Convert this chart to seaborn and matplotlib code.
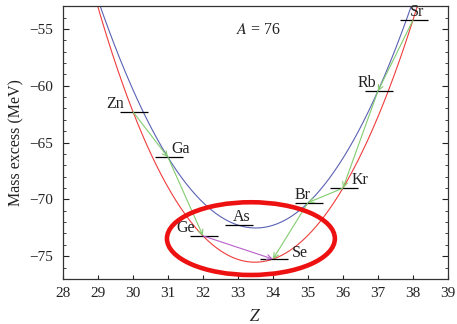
import numpy as np
import pandas as pd
import matplotlib
matplotlib.use("Agg")
import matplotlib.pyplot as plt
import seaborn as sns
from matplotlib.patches import Ellipse

# ---------------- data ----------------
elements = ["Zn", "Ga", "Ge", "As", "Se", "Br", "Kr", "Rb", "Sr"]
Z = [30, 31, 32, 33, 34, 35, 36, 37, 38]
mass_excess = [-62.30, -66.30, -73.21, -72.29, -75.25, -70.29, -69.01, -60.48, -54.25]

beta_from = ["Zn", "Ga", "Sr", "Rb", "Kr", "Br"]
beta_to = ["Ga", "Ge", "Rb", "Kr", "Br", "Se"]
dbeta_from = ["Ge"]
dbeta_to = ["Se"]

x_ticks = list(range(28, 40))
y_ticks = [-75, -70, -65, -60, -55]
mass_number_label = "76"

# ---------------- style ----------------
sns.set_theme(style="ticks")
plt.rcParams["font.family"] = ["Liberation Serif", "DejaVu Serif"]
plt.rcParams["mathtext.fontset"] = "stix"

fig = plt.figure(figsize=(4.57, 3.24), dpi=100)
ax = fig.add_axes([0.138, 0.139, 0.842, 0.842])

df = pd.DataFrame({"element": elements, "Z": Z, "M": mass_excess})
df["parity"] = np.where(df["Z"] % 2 == 0, "even-even", "odd-odd")

# smooth curves through each parity group
fit_degree = {"even-even": 4, "odd-odd": 2}
zz = np.linspace(28, 39, 400)
curves = []
for par, g in df.groupby("parity"):
    coef = np.polyfit(g["Z"], g["M"], fit_degree[par])
    curves.append(pd.DataFrame({"Z": zz, "M": np.polyval(coef, zz), "parity": par}))
curves = pd.concat(curves, ignore_index=True)

sns.lineplot(data=curves, x="Z", y="M", hue="parity",
             palette={"even-even": "#f03c3c", "odd-odd": "#5a62b4"},
             linewidth=0.8, legend=False, ax=ax, sort=False, estimator=None)

# level segments
seg_left, seg_right = 0.38, 0.44
for _, r in df.iterrows():
    ax.plot([r["Z"] - seg_left, r["Z"] + seg_right], [r["M"], r["M"]],
            color="black", lw=0.9, solid_capstyle="butt", zorder=3)

pos = dict(zip(elements, zip(Z, mass_excess)))

# beta-decay arrows
for a, b in zip(beta_from, beta_to):
    ax.annotate("", xy=pos[b], xytext=pos[a],
                arrowprops=dict(arrowstyle="->", color="#82cc6e", lw=0.8,
                                shrinkA=0, shrinkB=0, mutation_scale=9),
                zorder=4)
for a, b in zip(dbeta_from, dbeta_to):
    ax.annotate("", xy=pos[b], xytext=pos[a],
                arrowprops=dict(arrowstyle="->", color="#b860c8", lw=0.8,
                                shrinkA=0, shrinkB=0, mutation_scale=9),
                zorder=4)

# element labels (position offsets are styling)
label_style = {
    "Zn": (-0.25, 0.0, "right"),
    "Ga": (0.10, 0.0, "left"),
    "Ge": (-0.22, 0.0, "right"),
    "As": (-0.15, 0.0, "left"),
    "Se": (0.55, -0.15, "left"),
    "Br": (-0.38, 0.0, "left"),
    "Kr": (0.25, 0.0, "left"),
    "Rb": (-0.58, 0.0, "left"),
    "Sr": (-0.10, 0.0, "left"),
}
for el in elements:
    dx, dy, ha = label_style[el]
    x, y = pos[el]
    ax.text(x + dx, y + dy, el, ha=ha, va="bottom", fontsize=11.5,
            color="#222222", zorder=5)

ax.text(32.95, -55.1, r"$A$ = " + mass_number_label, fontsize=11.5,
        ha="left", va="center", color="#222222")

# highlight ellipse
ax.add_patch(Ellipse((33.37, -73.45), 4.8, 6.4, angle=0, fill=False,
                     edgecolor="#ee1111", lw=3.3, zorder=6))

# axes
ax.set_xlim(28, 39)
ax.set_ylim(-77, -53)
ax.set_xticks(x_ticks)
ax.set_yticks(y_ticks)
ax.set_yticks(np.arange(-77, -52), minor=True)
ax.set_yticklabels([f"\u2212{abs(v)}" for v in y_ticks])
ax.tick_params(axis="both", which="both", direction="in", colors="#222222",
               labelsize=11, labelcolor="#222222")
ax.tick_params(axis="y", which="major", length=4, width=0.8, right=True, pad=7)
ax.tick_params(axis="y", which="minor", length=2.5, width=0.6, right=True)
ax.tick_params(axis="x", which="major", length=3, width=0.8, top=False, pad=6)
for s in ax.spines.values():
    s.set_color("#333333")
    s.set_linewidth(0.9)
ax.set_xlabel("$Z$", fontsize=12, labelpad=6, color="#222222")
ax.set_ylabel("Mass excess (MeV)", fontsize=11.5, labelpad=4, color="#222222")

fig.savefig("out.png", dpi=100)
